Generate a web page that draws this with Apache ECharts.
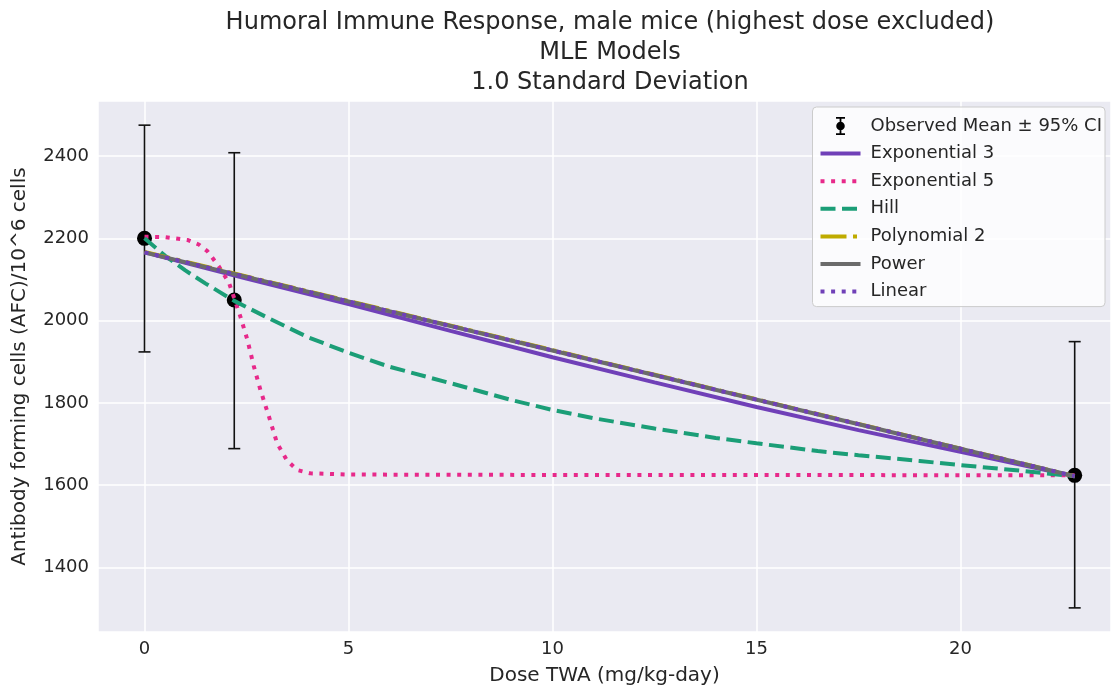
<!DOCTYPE html>
<html>
<head>
<meta charset="utf-8">
<script src="https://cdn.jsdelivr.net/npm/echarts@6/dist/echarts.min.js"></script>
<style>
  html, body { margin: 0; padding: 0; background: #fff; }
  #chart { width: 1111px; height: 688px; }
</style>
</head>
<body>
<div id="chart"></div>
<script>
// observed data (dose, mean, 95% CI)
let doses = [0, 2.2, 22.8];
let means = [2200, 2050, 1624];
let ciLow = [1924, 1689, 1302];
let ciHigh = [2475, 2408, 1949];

// model curves as [dose, response]
let exp3 = [[0, 2166], [2.5, 2102], [5, 2040], [7.5, 1975], [10, 1911], [12.5, 1850],
    [15, 1790], [17.5, 1734], [20, 1681], [22.8, 1622]];
let exp5 = [[0, 2204], [0.5, 2203], [1.05, 2196], [1.33, 2185], [1.54, 2169], [1.82, 2132],
    [2.07, 2092], [2.21, 2051], [2.35, 2010], [2.52, 1954], [2.68, 1889], [2.84, 1832],
    [3.05, 1767], [3.25, 1702], [3.49, 1661], [3.74, 1637], [4.06, 1629], [5, 1626],
    [10, 1625], [15, 1625], [22.8, 1624]];
let hill = [[0, 2200], [0.5, 2158], [1, 2122], [1.5, 2090], [2.2, 2048], [3, 2008], [4, 1960],
    [5, 1922], [6, 1888], [7.5, 1848], [9, 1807], [10, 1783], [11, 1763], [12.5, 1738],
    [14, 1715], [15, 1702], [16.5, 1683], [17.5, 1673], [19, 1659], [20, 1649], [21.5, 1635],
    [22.8, 1622]];
let poly2 = [[0, 2167], [11.4, 1895], [22.8, 1622]];
let power = [[0, 2166], [11.4, 1894], [22.8, 1622]];
let linear = [[0, 2166], [22.8, 1622]];

let xTicks = [0, 5, 10, 15, 20];
let yTicks = [1400, 1600, 1800, 2000, 2200, 2400];

let font = 'DejaVu Sans';
let ink = '#262626';
let obsName = 'Observed Mean \u00b1 95% CI';
// 误差棒图例图标
let errIcon = 'path://M4,0h8v1.6h-8z M7.2,1.6h1.6v3h-1.6z M7.2,11.4h1.6v3h-1.6z M4,14.4h8v1.6h-8z M4.2,8a3.8,3.8 0 1,1 7.6,0a3.8,3.8 0 1,1 -7.6,0z';

let chart = echarts.init(document.getElementById('chart'), null, {renderer: 'canvas'});

// 曲线统一样式
let curve = (name, data, color, type) => ({
    name: name,
    type: 'line',
    data: data,
    symbol: 'none',
    smooth: false,
    lineStyle: {color: color, width: 4, type: type},
    itemStyle: {color: color},
    emphasis: {disabled: true},
    z: 3
});

let lineLegend = name => ({name: name, itemStyle: {opacity: 0}, lineStyle: {width: 4}});

let option = {
    animation: false,
    textStyle: {fontFamily: font},
    title: {
        text: 'Humoral Immune Response, male mice (highest dose excluded)\nMLE Models\n1.0 Standard Deviation',
        left: 605,
        top: 3,
        textAlign: 'center',
        textStyle: {fontFamily: font, fontSize: 24, fontWeight: 'normal', color: ink, lineHeight: 30}
    },
    grid: {
        left: 98, top: 101, right: 0, bottom: 56,
        outerBoundsMode: 'none',
        containLabel: false,
        show: true, backgroundColor: '#eaeaf2', borderWidth: 0
    },
    legend: {
        orient: 'vertical',
        right: 6,
        top: 107,
        itemWidth: 40,
        itemHeight: 18,
        itemGap: 9.6,
        padding: [10, 3, 6, 6],
        backgroundColor: 'rgba(255,255,255,0.82)',
        borderColor: '#cccccc',
        borderWidth: 1,
        borderRadius: 4,
        lineStyle: {width: 4},
        textStyle: {fontFamily: font, fontSize: 18, color: ink, padding: [0, 0, 0, 5]},
        data: [
            {name: obsName, icon: errIcon, itemStyle: {color: '#000'}},
            lineLegend('Exponential 3'), lineLegend('Exponential 5'), lineLegend('Hill'),
            lineLegend('Polynomial 2'), lineLegend('Power'), lineLegend('Linear')
        ]
    },
    xAxis: {
        type: 'value',
        min: -1.14,
        max: 23.69,
        minInterval: 5,
        maxInterval: 5,
        name: 'Dose TWA (mg/kg-day)',
        nameLocation: 'middle',
        nameGap: 34,
        nameTextStyle: {fontFamily: font, fontSize: 20, color: ink},
        axisLine: {show: false},
        axisTick: {show: false},
        axisLabel: {
            fontFamily: font, fontSize: 18, color: ink, margin: 8,
            formatter: v => xTicks.indexOf(Math.round(v * 100) / 100) >= 0 ? String(v) : ''
        },
        splitLine: {show: true, lineStyle: {color: '#ffffff', width: 1.5}}
    },
    yAxis: {
        type: 'value',
        min: 1243.4,
        max: 2533.7,
        minInterval: 200,
        maxInterval: 200,
        name: 'Antibody forming cells (AFC)/10^6 cells',
        nameLocation: 'middle',
        nameGap: 68,
        nameTextStyle: {fontFamily: font, fontSize: 20, color: ink},
        axisLine: {show: false},
        axisTick: {show: false},
        axisLabel: {
            fontFamily: font, fontSize: 18, color: ink, margin: 9,
            formatter: v => yTicks.indexOf(Math.round(v)) >= 0 ? String(v) : ''
        },
        splitLine: {show: true, lineStyle: {color: '#ffffff', width: 1.5}}
    },
    series: [
        {
            // 误差棒
            name: obsName,
            type: 'custom',
            data: doses.map((d, i) => [d, ciLow[i], ciHigh[i]]),
            itemStyle: {color: '#000'},
            renderItem: (params, api) => {
                let lo = api.coord([api.value(0), api.value(1)]);
                let hi = api.coord([api.value(0), api.value(2)]);
                let st = {stroke: '#111', lineWidth: 1.6};
                return {
                    type: 'group',
                    children: [
                        {type: 'line', shape: {x1: lo[0], y1: lo[1], x2: hi[0], y2: hi[1]}, style: st},
                        {type: 'line', shape: {x1: lo[0] - 6, y1: lo[1], x2: lo[0] + 6, y2: lo[1]}, style: st},
                        {type: 'line', shape: {x1: hi[0] - 6, y1: hi[1], x2: hi[0] + 6, y2: hi[1]}, style: st}
                    ]
                };
            },
            z: 2
        },
        {
            name: obsName,
            type: 'scatter',
            data: doses.map((d, i) => [d, means[i]]),
            symbolSize: 15,
            itemStyle: {color: '#000', opacity: 1},
            emphasis: {disabled: true},
            z: 2
        },
        curve('Exponential 3', exp3, '#7040b8', 'solid'),
        curve('Exponential 5', exp5, '#e7298a', [4, 6.6]),
        curve('Hill', hill, '#1b9e77', [15, 6.5]),
        curve('Polynomial 2', poly2, '#bfab00', [26, 6.5, 4, 6.5]),
        curve('Power', power, '#6b6b6b', 'solid'),
        curve('Linear', linear, '#7040b8', [4, 6.6])
    ]
};

chart.setOption(option, true);
</script>
</body>
</html>
